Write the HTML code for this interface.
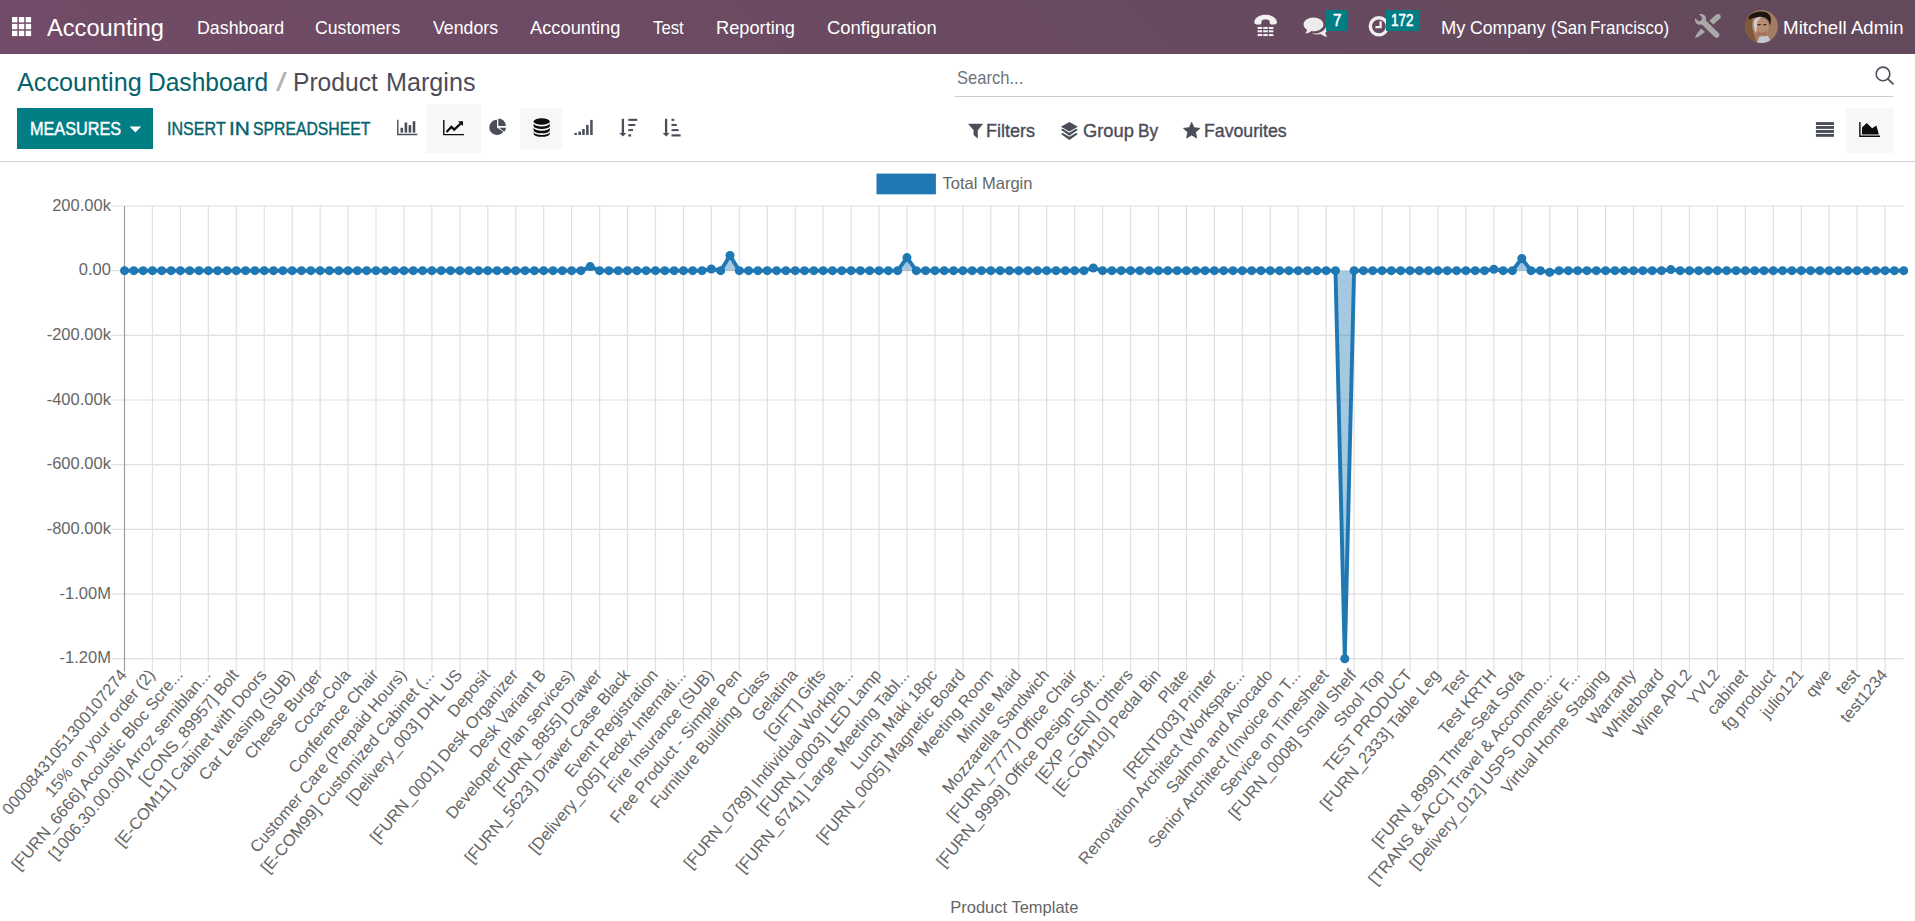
<!DOCTYPE html>
<html lang="en"><head><meta charset="utf-8"><title>Odoo - Product Margins</title>
<style>
html,body{margin:0;padding:0;background:#fff;}
body{width:1915px;height:921px;position:relative;overflow:hidden;font-family:"Liberation Sans", Arial, Helvetica, sans-serif;}
.t{position:absolute;white-space:pre;line-height:1;display:block;transform-origin:0 50%;}
.w{position:absolute;top:0;white-space:pre;transform-origin:0 50%;}
.abs{position:absolute;}
#navbar{position:absolute;left:0;top:0;width:1915px;height:54px;background:linear-gradient(45deg,#714B67,#62495B);}
#cp-border{position:absolute;left:0;top:161px;width:1915px;height:1.3px;background:#cfd2d6;}
#search-line{position:absolute;left:955px;top:96px;width:938px;height:1.2px;background:#c9ccd0;}
#btn-measures{position:absolute;left:17px;top:108px;width:136px;height:40.8px;background:#017e84;}
.actbg{position:absolute;background:#f7f7f7;}
.badge{position:absolute;background:#017e84;}
</style></head>
<body>
<header id="navbar"></header>
<section id="control-panel">
<div id="btn-measures"></div>
<div class="actbg" style="left:426px;top:103.7px;width:55.2px;height:49.5px"></div>
<div class="actbg" style="left:520px;top:108px;width:42px;height:41px"></div>
<div class="actbg" style="left:1846.1px;top:108.1px;width:46.9px;height:44.8px"></div>
<div id="search-line"></div>
<div id="cp-border"></div>
</section>
<svg id="icons" width="1915" height="162" viewBox="0 0 1915 162" style="position:absolute;left:0;top:0">
<g fill="#fff"><rect x="12.00" y="17.00" width="5.4" height="5.4"/><rect x="18.85" y="17.00" width="5.4" height="5.4"/><rect x="25.70" y="17.00" width="5.4" height="5.4"/><rect x="12.00" y="23.85" width="5.4" height="5.4"/><rect x="18.85" y="23.85" width="5.4" height="5.4"/><rect x="25.70" y="23.85" width="5.4" height="5.4"/><rect x="12.00" y="30.70" width="5.4" height="5.4"/><rect x="18.85" y="30.70" width="5.4" height="5.4"/><rect x="25.70" y="30.70" width="5.4" height="5.4"/></g>
<g fill="#f0f0f0"><path d="M1254.3 22.6 C1254.0 17.5 1260 14.8 1265.5 14.8 C1271 14.8 1277.2 17.5 1276.9 22.6 C1276.8 23.6 1276 24.3 1275 24.4 L1271.6 24.6 C1270.6 24.6 1269.9 24 1269.8 23 L1269.6 20.9 C1269.5 20 1267.5 19.4 1265.5 19.4 C1263.5 19.4 1261.7 20 1261.6 20.9 L1261.4 23 C1261.3 24 1260.6 24.6 1259.6 24.6 L1256.2 24.4 C1255.2 24.3 1254.4 23.6 1254.3 22.6 Z"/><rect x="1257.6" y="26.9" width="4.6" height="2.1"/><rect x="1263.2" y="26.9" width="4.6" height="2.1"/><rect x="1268.8" y="26.9" width="4.6" height="2.1"/><rect x="1257.6" y="30.2" width="4.6" height="2.1"/><rect x="1263.2" y="30.2" width="4.6" height="2.1"/><rect x="1268.8" y="30.2" width="4.6" height="2.1"/><rect x="1257.6" y="34.0" width="4.6" height="2.1"/><rect x="1263.2" y="34.0" width="4.6" height="2.1"/><rect x="1268.8" y="34.0" width="4.6" height="2.1"/></g>
<g fill="#ececec"><path d="M1311.5 33.6 C1313.2 34.2 1315 34.5 1317 34.5 C1318.3 34.5 1319.5 34.4 1320.7 34.1 C1322.4 35.6 1324.6 36.6 1327.3 36.9 C1326.2 35.6 1325.5 34.2 1325.3 32.6 C1327.2 31.2 1328.3 29.3 1328.3 27.2 C1328.3 25.4 1327.4 23.8 1326 22.5 C1326.2 23.2 1326.3 24 1326.3 24.7 C1326.3 29.6 1321 33.3 1314.5 33.6 Z"/><path d="M1313.5 17.5 C1308 17.5 1303.6 20.6 1303.6 24.4 C1303.6 26.5 1305 28.4 1307.1 29.7 C1306.9 31.1 1306.2 32.4 1305.2 33.6 C1307.8 33.3 1309.9 32.4 1311.4 31.1 C1312.1 31.2 1312.8 31.3 1313.5 31.3 C1319 31.3 1323.4 28.2 1323.4 24.4 C1323.4 20.6 1319 17.5 1313.5 17.5 Z"/></g>
<circle cx="1378.9" cy="26.3" r="8.6" fill="none" stroke="#f0f0f0" stroke-width="3.4"/>
<path d="M1380.6 21.2V27.2H1375.4" fill="none" stroke="#f0f0f0" stroke-width="2.3"/>
<g fill="#a9a9a9"><path d="M1699.3 14.2 C1697.4 14.6 1696 15.6 1695.2 17.2 L1698.6 20.6 L1701.6 19.8 L1702.4 16.8 L1699.3 14.2 Z" fill="none"/><path d="M1695.0 18.2 C1694.6 20.6 1695.4 22.8 1697.2 24.0 C1698.6 24.9 1700.3 25.1 1701.9 24.6 L1714.6 37.1 C1715.7 38.2 1717.5 38.2 1718.6 37.1 C1719.7 36.0 1719.7 34.2 1718.6 33.1 L1705.9 20.6 C1706.4 18.6 1705.9 16.5 1704.4 15.2 C1702.8 13.9 1700.8 13.6 1699.0 14.3 L1702.2 17.5 L1701.4 20.4 L1698.5 21.2 Z"/><path d="M1716.2 14.6 C1717.3 13.6 1719.0 13.7 1720.0 14.7 C1721.0 15.8 1721.0 17.4 1720.0 18.5 L1713.3 24.6 L1709.4 20.7 Z"/><path d="M1701.2 28.4 L1705.0 32.1 L1699.2 36.3 L1694.9 38.3 L1696.6 34.0 Z"/></g>
<g><clipPath id="avc"><circle cx="1761.4" cy="26.4" r="16.5"/></clipPath><circle cx="1761.4" cy="26.4" r="16.5" fill="#a37c65"/><g clip-path="url(#avc)"><path d="M1744 14 L1753 14 L1752 28 L1757 44 L1744 44 Z" fill="#80593a"/><path d="M1748.5 19.5 L1749 16.5 C1752 12.5 1757 11.2 1762 11.4 C1767 11.6 1770.5 14 1771 19 L1770.3 25.5 L1768.6 21 C1766.5 17 1761 16.2 1757.5 17.2 C1754 18 1751 18.6 1748.5 19.5 Z" fill="#1e1511"/><ellipse cx="1762" cy="27.2" rx="6.6" ry="8.6" fill="#b98d73"/><path d="M1753.6 21.5 C1754.5 17.8 1758 16.6 1761.5 17 L1757.3 21.5 L1756.2 33.5 C1754 30 1753 25.5 1753.6 21.5 Z" fill="#d3cac4"/><path d="M1757.6 24.6h3M1763.4 24.6h3" stroke="#3a2419" stroke-width="1.2"/><path d="M1757.5 30.5 C1759 33.5 1764.5 33.8 1766.5 30 L1766 35 L1758 35 Z" fill="#a8584e" fill-opacity="0.7"/><path d="M1756 45 L1759.5 36.5 L1768 36 L1773 45 Z" fill="#c4c8ce"/></g></g>
<path d="M129.6 126.4H141.2L135.4 132.6Z" fill="#fff"/>
<g fill="#4a4e59"><path d="M397.1 119.7h1.4v14.1h18.8v1.4H397.1z"/><rect x="400.50" y="127.8" width="2.6" height="4.80"/><rect x="404.60" y="122.5" width="2.6" height="10.10"/><rect x="408.60" y="125.1" width="2.6" height="7.50"/><rect x="412.70" y="121.2" width="2.6" height="11.40"/></g>
<g fill="#0d0d0d"><path d="M443.1 119.9h1.4v14.0h19.5v1.4H443.1z"/><path d="M458.0 121.2H463.0V126.1L461.3 124.4L454.2 131.3L451.4 128.5L447.3 132.8L445.7 131.2L451.4 125.3L454.2 128.1L459.7 122.9Z"/></g>
<g fill="#4a4e59"><path d="M497.0 127.4V119.7A7.7 7.7 0 1 0 503.31 131.82Z"/><path d="M498.3 126.10000000000001V118.4A7.7 7.7 0 0 1 506.0 126.10000000000001Z"/><path d="M499.2 127.7H506.0A7.7 7.7 0 0 1 504.31 131.82Z"/></g>
<g fill="#0d0d0d"><ellipse cx="541.7" cy="121.5" rx="8.099999999999966" ry="3.2"/><path d="M533.6 123.3A8.099999999999966 3.1 0 0 0 549.8 123.3V125.89999999999999A8.099999999999966 3.1 0 0 1 533.6 125.89999999999999Z"/><path d="M533.6 127.6A8.099999999999966 3.1 0 0 0 549.8 127.6V130.2A8.099999999999966 3.1 0 0 1 533.6 130.2Z"/><path d="M533.6 131.9A8.099999999999966 3.1 0 0 0 549.8 131.9V133.70000000000002A8.099999999999966 3.1 0 0 1 533.6 133.70000000000002Z"/></g>
<g fill="#4a4e59"><rect x="574.4" y="132.9" width="2.5" height="2.10"/><rect x="578.4" y="131.5" width="2.5" height="3.50"/><rect x="582.2" y="128.9" width="2.5" height="6.10"/><rect x="586.1" y="124.9" width="2.5" height="10.10"/><rect x="590.2" y="119.9" width="2.5" height="15.10"/></g>
<g fill="#4a4e59"><rect x="621.75" y="118.8" width="2.3" height="14.6"/><path d="M619.40 132.9H626.40L622.90 136.6Z"/><rect x="628.3" y="118.8" width="8.9" height="2.1"/><rect x="628.3" y="124.0" width="7.0" height="2.0"/><rect x="628.3" y="129.1" width="4.7" height="2.0"/><rect x="628.3" y="134.3" width="2.8" height="2.2"/></g>
<g fill="#4a4e59"><rect x="664.95" y="118.8" width="2.3" height="14.6"/><path d="M662.60 132.9H669.60L666.10 136.6Z"/><rect x="671.5" y="118.8" width="2.8" height="2.1"/><rect x="671.5" y="124.0" width="5.3" height="2.0"/><rect x="671.5" y="129.1" width="7.2" height="2.0"/><rect x="671.5" y="134.3" width="9.1" height="2.2"/></g>
<path d="M968.6 124.1H982.5L977.5 130.3V138.0L973.9 135.0V130.3Z" fill="#4a4e59" stroke="#4a4e59" stroke-width="0.6" stroke-linejoin="round"/>
<g fill="#4a4e59"><path d="M1069.4 121.9L1077.9 126.7L1069.4 131.6L1060.9 126.7Z"/><path d="M1060.9 129.8L1062.7 128.8L1069.4 132.7L1076.1 128.8L1077.9 129.8L1069.4 135.8Z"/><path d="M1060.9 133.9L1062.7 132.9L1069.4 136.8L1076.1 132.9L1077.9 133.9L1069.4 139.9Z"/></g>
<path d="M1191.65 122.40L1194.00 127.76L1199.83 128.34L1195.45 132.24L1196.70 137.96L1191.65 135.00L1186.60 137.96L1187.85 132.24L1183.47 128.34L1189.30 127.76Z" fill="#4a4e59" stroke="#4a4e59" stroke-width="0.9" stroke-linejoin="round"/>
<circle cx="1883" cy="73.9" r="6.8" fill="none" stroke="#4a5160" stroke-width="1.6"/>
<path d="M1887.9 78.8L1892.9 83.8" stroke="#4a5160" stroke-width="1.8" stroke-linecap="round"/>
<g fill="#4a4e59"><rect x="1815.9" y="122.1" width="18.1" height="2.9"/><rect x="1815.9" y="126.0" width="18.1" height="2.9"/><rect x="1815.9" y="130.0" width="18.1" height="2.9"/><rect x="1815.9" y="133.9" width="18.1" height="2.9"/></g>
<g fill="#0d0d0d"><path d="M1859.2 122.1h1.4v13.4h19.4v1.4H1859.2z"/><path d="M1862.0 134.4V127.4L1866.7 122.9L1872.1 128.3L1876.4 125.4L1878.9 134.4Z"/></g>
</svg>
<div class="badge" style="left:1325.6px;top:10px;width:22.3px;height:20.9px"></div>
<div class="badge" style="left:1385.8px;top:10px;width:34.5px;height:20.9px"></div>
<nav id="main-menu">
<span class="t" id="brand" style="left:47.60px;top:17.00px;font-size:23.1px;color:#fff;font-weight:400;"><span class="w" id="brand.0" style="left:-0.22px;transform:scaleX(1.0242)">Accounting</span></span>
<span class="t" id="m1" style="left:197.80px;top:17.92px;font-size:19.0px;color:#fff;font-weight:400;"><span class="w" id="m1.0" style="left:-1.29px;transform:scaleX(0.9379)">Dashboard</span></span>
<span class="t" id="m2" style="left:315.90px;top:17.92px;font-size:19.0px;color:#fff;font-weight:400;"><span class="w" id="m2.0" style="left:-1.40px;transform:scaleX(0.9288)">Customers</span></span>
<span class="t" id="m3" style="left:433.20px;top:17.92px;font-size:19.0px;color:#fff;font-weight:400;"><span class="w" id="m3.0" style="left:-0.36px;transform:scaleX(0.9331)">Vendors</span></span>
<span class="t" id="m4" style="left:530.20px;top:17.92px;font-size:19.0px;color:#fff;font-weight:400;"><span class="w" id="m4.0" style="left:-0.20px;transform:scaleX(0.9622)">Accounting</span></span>
<span class="t" id="m5" style="left:653.30px;top:17.92px;font-size:19.0px;color:#fff;font-weight:400;"><span class="w" id="m5.0" style="left:-0.38px;transform:scaleX(0.8822)">Test</span></span>
<span class="t" id="m6" style="left:717.40px;top:17.92px;font-size:19.0px;color:#fff;font-weight:400;"><span class="w" id="m6.0" style="left:-1.76px;transform:scaleX(0.9590)">Reporting</span></span>
<span class="t" id="m7" style="left:827.70px;top:17.92px;font-size:19.0px;color:#fff;font-weight:400;"><span class="w" id="m7.0" style="left:-1.20px;transform:scaleX(0.9702)">Configuration</span></span>
<span class="t" id="company" style="left:1442.70px;top:17.92px;font-size:19.0px;color:#fff;font-weight:400;"><span class="w" id="company.0" style="left:-1.34px;transform:scaleX(0.9681)">My</span> <span class="w" id="company.1" style="left:27.80px;transform:scaleX(0.9285)">Company</span> <span class="w" id="company.2" style="left:108.20px;transform:scaleX(0.8879)">(San</span> <span class="w" id="company.3" style="left:147.32px;transform:scaleX(0.8920)">Francisco)</span></span>
<span class="t" id="user" style="left:1783.60px;top:17.92px;font-size:19.0px;color:#fff;font-weight:400;"><span class="w" id="user.0" style="left:-1.08px;transform:scaleX(0.9874)">Mitchell</span> <span class="w" id="user.1" style="left:67.11px;transform:scaleX(0.9759)">Admin</span></span>
<span class="t" id="b7" style="left:1333.00px;top:11.99px;font-size:16.2px;color:#fff;font-weight:400;-webkit-text-stroke:0.55px #fff;"><span class="w" id="b7.0" style="left:-0.46px;transform:scaleX(0.9467)">7</span></span>
<span class="t" id="b172" style="left:1392.30px;top:11.99px;font-size:16.2px;color:#fff;font-weight:400;-webkit-text-stroke:0.55px #fff;"><span class="w" id="b172.0" style="left:-1.51px;transform:scaleX(0.8306)">172</span></span>
</nav>
<section id="control-panel-text">
<span class="t" id="bc1" style="left:17.30px;top:70.02px;font-size:24.9px;color:#04626b;font-weight:400;"><span class="w" id="bc1.0" style="left:-0.48px;transform:scaleX(1.0125)">Accounting</span> <span class="w" id="bc1.1" style="left:131.14px;transform:scaleX(0.9858)">Dashboard</span></span>
<span class="t" id="bc2" style="left:275.70px;top:70.02px;font-size:24.9px;color:#b3b3b3;font-weight:400;"><span class="w" id="bc2.0" style="left:0.25px;transform:scaleX(1.5660)">/</span></span>
<span class="t" id="bc3" style="left:295.30px;top:70.02px;font-size:24.9px;color:#4c4c59;font-weight:400;"><span class="w" id="bc3.0" style="left:-2.11px;transform:scaleX(0.9888)">Product</span> <span class="w" id="bc3.1" style="left:90.26px;transform:scaleX(1.0107)">Margins</span></span>
<span class="t" id="search" style="left:958.10px;top:67.92px;font-size:19.0px;color:#70757d;font-weight:400;"><span class="w" id="search.0" style="left:-0.88px;transform:scaleX(0.8720)">Search...</span></span>
<span class="t" id="measures" style="left:31.20px;top:119.96px;font-size:18.6px;color:#fff;font-weight:400;-webkit-text-stroke:0.45px #fff;"><span class="w" id="measures.0" style="left:-0.91px;transform:scaleX(0.8736)">MEASURES</span></span>
<span class="t" id="insert" style="left:167.10px;top:119.96px;font-size:18.6px;color:#04626b;font-weight:400;-webkit-text-stroke:0.4px #04626b;"><span class="w" id="insert.0" style="left:-0.29px;transform:scaleX(0.8660)">INSERT</span> <span class="w" id="insert.1" style="left:62.08px;transform:scaleX(1.1208)">IN</span> <span class="w" id="insert.2" style="left:86.22px;transform:scaleX(0.8471)">SPREADSHEET</span></span>
<span class="t" id="filters" style="left:987.60px;top:121.96px;font-size:18.6px;color:#4c4c59;font-weight:400;-webkit-text-stroke:0.4px #4c4c59;"><span class="w" id="filters.0" style="left:-1.35px;transform:scaleX(0.9698)">Filters</span></span>
<span class="t" id="groupby" style="left:1083.00px;top:121.96px;font-size:18.6px;color:#4c4c59;font-weight:400;-webkit-text-stroke:0.4px #4c4c59;"><span class="w" id="groupby.0" style="left:-0.51px;transform:scaleX(0.9838)">Group</span> <span class="w" id="groupby.1" style="left:54.86px;transform:scaleX(0.9276)">By</span></span>
<span class="t" id="fav" style="left:1205.20px;top:121.96px;font-size:18.6px;color:#4c4c59;font-weight:400;-webkit-text-stroke:0.4px #4c4c59;"><span class="w" id="fav.0" style="left:-1.35px;transform:scaleX(0.9517)">Favourites</span></span>
</section>
<main id="graph-view">
<svg id="chart" width="1915" height="759" viewBox="0 162 1915 759" style="position:absolute;left:0;top:162px" font-family='"Liberation Sans", Arial, Helvetica, sans-serif' font-size="16.5" fill="#666">
<rect x="876.5" y="173.6" width="59.4" height="20.7" fill="#1f77b4"/>
<text x="942.6" y="188.6">Total Margin</text>
<path d="M152.45 206.00V671.70M180.39 206.00V671.70M208.34 206.00V671.70M236.28 206.00V671.70M264.23 206.00V671.70M292.17 206.00V671.70M320.12 206.00V671.70M348.06 206.00V671.70M376.01 206.00V671.70M403.96 206.00V671.70M431.90 206.00V671.70M459.85 206.00V671.70M487.79 206.00V671.70M515.74 206.00V671.70M543.68 206.00V671.70M571.63 206.00V671.70M599.57 206.00V671.70M627.52 206.00V671.70M655.47 206.00V671.70M683.41 206.00V671.70M711.36 206.00V671.70M739.30 206.00V671.70M767.25 206.00V671.70M795.19 206.00V671.70M823.14 206.00V671.70M851.08 206.00V671.70M879.03 206.00V671.70M906.98 206.00V671.70M934.92 206.00V671.70M962.87 206.00V671.70M990.81 206.00V671.70M1018.76 206.00V671.70M1046.70 206.00V671.70M1074.65 206.00V671.70M1102.59 206.00V671.70M1130.54 206.00V671.70M1158.49 206.00V671.70M1186.43 206.00V671.70M1214.38 206.00V671.70M1242.32 206.00V671.70M1270.27 206.00V671.70M1298.21 206.00V671.70M1326.16 206.00V671.70M1354.10 206.00V671.70M1382.05 206.00V671.70M1410.00 206.00V671.70M1437.94 206.00V671.70M1465.89 206.00V671.70M1493.83 206.00V671.70M1521.78 206.00V671.70M1549.72 206.00V671.70M1577.67 206.00V671.70M1605.61 206.00V671.70M1633.56 206.00V671.70M1661.51 206.00V671.70M1689.45 206.00V671.70M1717.40 206.00V671.70M1745.34 206.00V671.70M1773.29 206.00V671.70M1801.23 206.00V671.70M1829.18 206.00V671.70M1857.12 206.00V671.70M1885.07 206.00V671.70M111.20 206.00H1903.70M111.20 270.67H1903.70M111.20 335.34H1903.70M111.20 400.01H1903.70M111.20 464.69H1903.70M111.20 529.36H1903.70M111.20 594.03H1903.70M111.20 658.70H1903.70" stroke="#e0e0e0" stroke-width="1.2" fill="none"/>
<path d="M124.50 206.00V671.70" stroke="#9e9e9e" stroke-width="1.2" fill="none"/>
<text x="110.9" y="210.70" text-anchor="end">200.00k</text>
<text x="110.9" y="275.37" text-anchor="end">0.00</text>
<text x="110.9" y="340.04" text-anchor="end">-200.00k</text>
<text x="110.9" y="404.71" text-anchor="end">-400.00k</text>
<text x="110.9" y="469.39" text-anchor="end">-600.00k</text>
<text x="110.9" y="534.06" text-anchor="end">-800.00k</text>
<text x="110.9" y="598.73" text-anchor="end">-1.00M</text>
<text x="110.9" y="663.40" text-anchor="end">-1.20M</text>
<text transform="translate(124.50 672.6) rotate(-50)" text-anchor="end" y="4.2">00008431051300107274</text>
<text transform="translate(152.45 672.6) rotate(-50)" text-anchor="end" y="4.2">15% on your order (2)</text>
<text transform="translate(180.39 672.6) rotate(-50)" text-anchor="end" y="4.2">[FURN_6666] Acoustic Bloc Scre...</text>
<text transform="translate(208.34 672.6) rotate(-50)" text-anchor="end" y="4.2">[1006.30.00.00] Arroz semiblan...</text>
<text transform="translate(236.28 672.6) rotate(-50)" text-anchor="end" y="4.2">[CONS_89957] Bolt</text>
<text transform="translate(264.23 672.6) rotate(-50)" text-anchor="end" y="4.2">[E-COM11] Cabinet with Doors</text>
<text transform="translate(292.17 672.6) rotate(-50)" text-anchor="end" y="4.2">Car Leasing (SUB)</text>
<text transform="translate(320.12 672.6) rotate(-50)" text-anchor="end" y="4.2">Cheese Burger</text>
<text transform="translate(348.06 672.6) rotate(-50)" text-anchor="end" y="4.2">Coca-Cola</text>
<text transform="translate(376.01 672.6) rotate(-50)" text-anchor="end" y="4.2">Conference Chair</text>
<text transform="translate(403.96 672.6) rotate(-50)" text-anchor="end" y="4.2">Customer Care (Prepaid Hours)</text>
<text transform="translate(431.90 672.6) rotate(-50)" text-anchor="end" y="4.2">[E-COM99] Customized Cabinet (...</text>
<text transform="translate(459.85 672.6) rotate(-50)" text-anchor="end" y="4.2">[Delivery_003] DHL US</text>
<text transform="translate(487.79 672.6) rotate(-50)" text-anchor="end" y="4.2">Deposit</text>
<text transform="translate(515.74 672.6) rotate(-50)" text-anchor="end" y="4.2">[FURN_0001] Desk Organizer</text>
<text transform="translate(543.68 672.6) rotate(-50)" text-anchor="end" y="4.2">Desk Variant B</text>
<text transform="translate(571.63 672.6) rotate(-50)" text-anchor="end" y="4.2">Developer (Plan services)</text>
<text transform="translate(599.57 672.6) rotate(-50)" text-anchor="end" y="4.2">[FURN_8855] Drawer</text>
<text transform="translate(627.52 672.6) rotate(-50)" text-anchor="end" y="4.2">[FURN_5623] Drawer Case Black</text>
<text transform="translate(655.47 672.6) rotate(-50)" text-anchor="end" y="4.2">Event Registration</text>
<text transform="translate(683.41 672.6) rotate(-50)" text-anchor="end" y="4.2">[Delivery_005] Fedex Internati...</text>
<text transform="translate(711.36 672.6) rotate(-50)" text-anchor="end" y="4.2">Fire Insurance (SUB)</text>
<text transform="translate(739.30 672.6) rotate(-50)" text-anchor="end" y="4.2">Free Product - Simple Pen</text>
<text transform="translate(767.25 672.6) rotate(-50)" text-anchor="end" y="4.2">Furniture Building Class</text>
<text transform="translate(795.19 672.6) rotate(-50)" text-anchor="end" y="4.2">Gelatina</text>
<text transform="translate(823.14 672.6) rotate(-50)" text-anchor="end" y="4.2">[GIFT] Gifts</text>
<text transform="translate(851.08 672.6) rotate(-50)" text-anchor="end" y="4.2">[FURN_0789] Individual Workpla...</text>
<text transform="translate(879.03 672.6) rotate(-50)" text-anchor="end" y="4.2">[FURN_0003] LED Lamp</text>
<text transform="translate(906.98 672.6) rotate(-50)" text-anchor="end" y="4.2">[FURN_6741] Large Meeting Tabl...</text>
<text transform="translate(934.92 672.6) rotate(-50)" text-anchor="end" y="4.2">Lunch Maki 18pc</text>
<text transform="translate(962.87 672.6) rotate(-50)" text-anchor="end" y="4.2">[FURN_0005] Magnetic Board</text>
<text transform="translate(990.81 672.6) rotate(-50)" text-anchor="end" y="4.2">Meeting Room</text>
<text transform="translate(1018.76 672.6) rotate(-50)" text-anchor="end" y="4.2">Minute Maid</text>
<text transform="translate(1046.70 672.6) rotate(-50)" text-anchor="end" y="4.2">Mozzarella Sandwich</text>
<text transform="translate(1074.65 672.6) rotate(-50)" text-anchor="end" y="4.2">[FURN_7777] Office Chair</text>
<text transform="translate(1102.59 672.6) rotate(-50)" text-anchor="end" y="4.2">[FURN_9999] Office Design Soft...</text>
<text transform="translate(1130.54 672.6) rotate(-50)" text-anchor="end" y="4.2">[EXP_GEN] Others</text>
<text transform="translate(1158.49 672.6) rotate(-50)" text-anchor="end" y="4.2">[E-COM10] Pedal Bin</text>
<text transform="translate(1186.43 672.6) rotate(-50)" text-anchor="end" y="4.2">Plate</text>
<text transform="translate(1214.38 672.6) rotate(-50)" text-anchor="end" y="4.2">[RENT003] Printer</text>
<text transform="translate(1242.32 672.6) rotate(-50)" text-anchor="end" y="4.2">Renovation Architect (Workspac...</text>
<text transform="translate(1270.27 672.6) rotate(-50)" text-anchor="end" y="4.2">Salmon and Avocado</text>
<text transform="translate(1298.21 672.6) rotate(-50)" text-anchor="end" y="4.2">Senior Architect (Invoice on T...</text>
<text transform="translate(1326.16 672.6) rotate(-50)" text-anchor="end" y="4.2">Service on Timesheet</text>
<text transform="translate(1354.10 672.6) rotate(-50)" text-anchor="end" y="4.2">[FURN_0008] Small Shelf</text>
<text transform="translate(1382.05 672.6) rotate(-50)" text-anchor="end" y="4.2">Stool Top</text>
<text transform="translate(1410.00 672.6) rotate(-50)" text-anchor="end" y="4.2">TEST PRODUCT</text>
<text transform="translate(1437.94 672.6) rotate(-50)" text-anchor="end" y="4.2">[FURN_2333] Table Leg</text>
<text transform="translate(1465.89 672.6) rotate(-50)" text-anchor="end" y="4.2">Test</text>
<text transform="translate(1493.83 672.6) rotate(-50)" text-anchor="end" y="4.2">Test KRTH</text>
<text transform="translate(1521.78 672.6) rotate(-50)" text-anchor="end" y="4.2">[FURN_8999] Three-Seat Sofa</text>
<text transform="translate(1549.72 672.6) rotate(-50)" text-anchor="end" y="4.2">[TRANS &amp; ACC] Travel &amp; Accommo...</text>
<text transform="translate(1577.67 672.6) rotate(-50)" text-anchor="end" y="4.2">[Delivery_012] USPS Domestic F...</text>
<text transform="translate(1605.61 672.6) rotate(-50)" text-anchor="end" y="4.2">Virtual Home Staging</text>
<text transform="translate(1633.56 672.6) rotate(-50)" text-anchor="end" y="4.2">Warranty</text>
<text transform="translate(1661.51 672.6) rotate(-50)" text-anchor="end" y="4.2">Whiteboard</text>
<text transform="translate(1689.45 672.6) rotate(-50)" text-anchor="end" y="4.2">Wine APL2</text>
<text transform="translate(1717.40 672.6) rotate(-50)" text-anchor="end" y="4.2">YVL2</text>
<text transform="translate(1745.34 672.6) rotate(-50)" text-anchor="end" y="4.2">cabinet</text>
<text transform="translate(1773.29 672.6) rotate(-50)" text-anchor="end" y="4.2">fg product</text>
<text transform="translate(1801.23 672.6) rotate(-50)" text-anchor="end" y="4.2">julio121</text>
<text transform="translate(1829.18 672.6) rotate(-50)" text-anchor="end" y="4.2">qwe</text>
<text transform="translate(1857.12 672.6) rotate(-50)" text-anchor="end" y="4.2">test</text>
<text transform="translate(1885.07 672.6) rotate(-50)" text-anchor="end" y="4.2">test1234</text>
<text x="1014.3" y="912.6" text-anchor="middle">Product Template</text>
<path d="M124.50 270.67L133.82 270.67L143.13 270.67L152.45 270.67L161.76 270.67L171.08 270.67L180.39 270.67L189.71 270.67L199.02 270.67L208.34 270.67L217.65 270.67L226.97 270.67L236.28 270.67L245.60 270.67L254.91 270.67L264.23 270.67L273.54 270.67L282.86 270.67L292.17 270.67L301.49 270.67L310.80 270.67L320.12 270.67L329.43 270.67L338.75 270.67L348.06 270.67L357.38 270.67L366.69 270.67L376.01 270.67L385.33 270.67L394.64 270.67L403.96 270.67L413.27 270.67L422.59 270.67L431.90 270.67L441.22 270.67L450.53 270.67L459.85 270.67L469.16 270.67L478.48 270.67L487.79 270.67L497.11 270.67L506.42 270.67L515.74 270.67L525.05 270.67L534.37 270.67L543.68 270.67L553.00 270.67L562.31 270.67L571.63 270.67L580.94 270.67L590.26 266.60L599.57 270.67L608.89 270.67L618.20 270.67L627.52 270.67L636.84 270.67L646.15 270.67L655.47 270.67L664.78 270.67L674.10 270.67L683.41 270.67L692.73 270.67L702.04 270.67L711.36 269.00L720.67 270.67L729.99 255.50L739.30 270.67L748.62 270.67L757.93 270.67L767.25 270.67L776.56 270.67L785.88 270.67L795.19 270.67L804.51 270.67L813.82 270.67L823.14 270.67L832.45 270.67L841.77 270.67L851.08 270.67L860.40 270.67L869.71 270.67L879.03 270.67L888.35 270.67L897.66 270.67L906.98 257.60L916.29 270.67L925.61 270.67L934.92 270.67L944.24 270.67L953.55 270.67L962.87 270.67L972.18 270.67L981.50 270.67L990.81 270.67L1000.13 270.67L1009.44 270.67L1018.76 270.67L1028.07 270.67L1037.39 270.67L1046.70 270.67L1056.02 270.67L1065.33 270.67L1074.65 270.67L1083.96 270.67L1093.28 268.00L1102.59 270.67L1111.91 270.67L1121.22 270.67L1130.54 270.67L1139.85 270.67L1149.17 270.67L1158.49 270.67L1167.80 270.67L1177.12 270.67L1186.43 270.67L1195.75 270.67L1205.06 270.67L1214.38 270.67L1223.69 270.67L1233.01 270.67L1242.32 270.67L1251.64 270.67L1260.95 270.67L1270.27 270.67L1279.58 270.67L1288.90 270.67L1298.21 270.67L1307.53 270.67L1316.84 270.67L1326.16 270.67L1335.47 270.67L1344.79 658.70L1354.10 270.67L1363.42 270.67L1372.73 270.67L1382.05 270.67L1391.36 270.67L1400.68 270.67L1410.00 270.67L1419.31 270.67L1428.63 270.67L1437.94 270.67L1447.26 270.67L1456.57 270.67L1465.89 270.67L1475.20 270.67L1484.52 270.67L1493.83 269.20L1503.15 270.67L1512.46 270.67L1521.78 258.50L1531.09 270.67L1540.41 270.67L1549.72 272.30L1559.04 270.67L1568.35 270.67L1577.67 270.67L1586.98 270.67L1596.30 270.67L1605.61 270.67L1614.93 270.67L1624.24 270.67L1633.56 270.67L1642.87 270.67L1652.19 270.67L1661.51 270.67L1670.82 269.60L1680.14 270.67L1689.45 270.67L1698.77 270.67L1708.08 270.67L1717.40 270.67L1726.71 270.67L1736.03 270.67L1745.34 270.67L1754.66 270.67L1763.97 270.67L1773.29 270.67L1782.60 270.67L1791.92 270.67L1801.23 270.67L1810.55 270.67L1819.86 270.67L1829.18 270.67L1838.49 270.67L1847.81 270.67L1857.12 270.67L1866.44 270.67L1875.75 270.67L1885.07 270.67L1894.38 270.67L1903.70 270.67L1903.70 270.67L124.50 270.67Z" fill="#1f77b4" fill-opacity="0.4" stroke="none"/>
<path d="M124.50 270.67L133.82 270.67L143.13 270.67L152.45 270.67L161.76 270.67L171.08 270.67L180.39 270.67L189.71 270.67L199.02 270.67L208.34 270.67L217.65 270.67L226.97 270.67L236.28 270.67L245.60 270.67L254.91 270.67L264.23 270.67L273.54 270.67L282.86 270.67L292.17 270.67L301.49 270.67L310.80 270.67L320.12 270.67L329.43 270.67L338.75 270.67L348.06 270.67L357.38 270.67L366.69 270.67L376.01 270.67L385.33 270.67L394.64 270.67L403.96 270.67L413.27 270.67L422.59 270.67L431.90 270.67L441.22 270.67L450.53 270.67L459.85 270.67L469.16 270.67L478.48 270.67L487.79 270.67L497.11 270.67L506.42 270.67L515.74 270.67L525.05 270.67L534.37 270.67L543.68 270.67L553.00 270.67L562.31 270.67L571.63 270.67L580.94 270.67L590.26 266.60L599.57 270.67L608.89 270.67L618.20 270.67L627.52 270.67L636.84 270.67L646.15 270.67L655.47 270.67L664.78 270.67L674.10 270.67L683.41 270.67L692.73 270.67L702.04 270.67L711.36 269.00L720.67 270.67L729.99 255.50L739.30 270.67L748.62 270.67L757.93 270.67L767.25 270.67L776.56 270.67L785.88 270.67L795.19 270.67L804.51 270.67L813.82 270.67L823.14 270.67L832.45 270.67L841.77 270.67L851.08 270.67L860.40 270.67L869.71 270.67L879.03 270.67L888.35 270.67L897.66 270.67L906.98 257.60L916.29 270.67L925.61 270.67L934.92 270.67L944.24 270.67L953.55 270.67L962.87 270.67L972.18 270.67L981.50 270.67L990.81 270.67L1000.13 270.67L1009.44 270.67L1018.76 270.67L1028.07 270.67L1037.39 270.67L1046.70 270.67L1056.02 270.67L1065.33 270.67L1074.65 270.67L1083.96 270.67L1093.28 268.00L1102.59 270.67L1111.91 270.67L1121.22 270.67L1130.54 270.67L1139.85 270.67L1149.17 270.67L1158.49 270.67L1167.80 270.67L1177.12 270.67L1186.43 270.67L1195.75 270.67L1205.06 270.67L1214.38 270.67L1223.69 270.67L1233.01 270.67L1242.32 270.67L1251.64 270.67L1260.95 270.67L1270.27 270.67L1279.58 270.67L1288.90 270.67L1298.21 270.67L1307.53 270.67L1316.84 270.67L1326.16 270.67L1335.47 270.67L1344.79 658.70L1354.10 270.67L1363.42 270.67L1372.73 270.67L1382.05 270.67L1391.36 270.67L1400.68 270.67L1410.00 270.67L1419.31 270.67L1428.63 270.67L1437.94 270.67L1447.26 270.67L1456.57 270.67L1465.89 270.67L1475.20 270.67L1484.52 270.67L1493.83 269.20L1503.15 270.67L1512.46 270.67L1521.78 258.50L1531.09 270.67L1540.41 270.67L1549.72 272.30L1559.04 270.67L1568.35 270.67L1577.67 270.67L1586.98 270.67L1596.30 270.67L1605.61 270.67L1614.93 270.67L1624.24 270.67L1633.56 270.67L1642.87 270.67L1652.19 270.67L1661.51 270.67L1670.82 269.60L1680.14 270.67L1689.45 270.67L1698.77 270.67L1708.08 270.67L1717.40 270.67L1726.71 270.67L1736.03 270.67L1745.34 270.67L1754.66 270.67L1763.97 270.67L1773.29 270.67L1782.60 270.67L1791.92 270.67L1801.23 270.67L1810.55 270.67L1819.86 270.67L1829.18 270.67L1838.49 270.67L1847.81 270.67L1857.12 270.67L1866.44 270.67L1875.75 270.67L1885.07 270.67L1894.38 270.67L1903.70 270.67" fill="none" stroke="#1f77b4" stroke-width="3.9" stroke-linejoin="round" stroke-linecap="butt"/>
<g fill="#1f77b4"><circle cx="124.50" cy="270.67" r="4.5"/><circle cx="133.82" cy="270.67" r="4.5"/><circle cx="143.13" cy="270.67" r="4.5"/><circle cx="152.45" cy="270.67" r="4.5"/><circle cx="161.76" cy="270.67" r="4.5"/><circle cx="171.08" cy="270.67" r="4.5"/><circle cx="180.39" cy="270.67" r="4.5"/><circle cx="189.71" cy="270.67" r="4.5"/><circle cx="199.02" cy="270.67" r="4.5"/><circle cx="208.34" cy="270.67" r="4.5"/><circle cx="217.65" cy="270.67" r="4.5"/><circle cx="226.97" cy="270.67" r="4.5"/><circle cx="236.28" cy="270.67" r="4.5"/><circle cx="245.60" cy="270.67" r="4.5"/><circle cx="254.91" cy="270.67" r="4.5"/><circle cx="264.23" cy="270.67" r="4.5"/><circle cx="273.54" cy="270.67" r="4.5"/><circle cx="282.86" cy="270.67" r="4.5"/><circle cx="292.17" cy="270.67" r="4.5"/><circle cx="301.49" cy="270.67" r="4.5"/><circle cx="310.80" cy="270.67" r="4.5"/><circle cx="320.12" cy="270.67" r="4.5"/><circle cx="329.43" cy="270.67" r="4.5"/><circle cx="338.75" cy="270.67" r="4.5"/><circle cx="348.06" cy="270.67" r="4.5"/><circle cx="357.38" cy="270.67" r="4.5"/><circle cx="366.69" cy="270.67" r="4.5"/><circle cx="376.01" cy="270.67" r="4.5"/><circle cx="385.33" cy="270.67" r="4.5"/><circle cx="394.64" cy="270.67" r="4.5"/><circle cx="403.96" cy="270.67" r="4.5"/><circle cx="413.27" cy="270.67" r="4.5"/><circle cx="422.59" cy="270.67" r="4.5"/><circle cx="431.90" cy="270.67" r="4.5"/><circle cx="441.22" cy="270.67" r="4.5"/><circle cx="450.53" cy="270.67" r="4.5"/><circle cx="459.85" cy="270.67" r="4.5"/><circle cx="469.16" cy="270.67" r="4.5"/><circle cx="478.48" cy="270.67" r="4.5"/><circle cx="487.79" cy="270.67" r="4.5"/><circle cx="497.11" cy="270.67" r="4.5"/><circle cx="506.42" cy="270.67" r="4.5"/><circle cx="515.74" cy="270.67" r="4.5"/><circle cx="525.05" cy="270.67" r="4.5"/><circle cx="534.37" cy="270.67" r="4.5"/><circle cx="543.68" cy="270.67" r="4.5"/><circle cx="553.00" cy="270.67" r="4.5"/><circle cx="562.31" cy="270.67" r="4.5"/><circle cx="571.63" cy="270.67" r="4.5"/><circle cx="580.94" cy="270.67" r="4.5"/><circle cx="590.26" cy="266.60" r="4.5"/><circle cx="599.57" cy="270.67" r="4.5"/><circle cx="608.89" cy="270.67" r="4.5"/><circle cx="618.20" cy="270.67" r="4.5"/><circle cx="627.52" cy="270.67" r="4.5"/><circle cx="636.84" cy="270.67" r="4.5"/><circle cx="646.15" cy="270.67" r="4.5"/><circle cx="655.47" cy="270.67" r="4.5"/><circle cx="664.78" cy="270.67" r="4.5"/><circle cx="674.10" cy="270.67" r="4.5"/><circle cx="683.41" cy="270.67" r="4.5"/><circle cx="692.73" cy="270.67" r="4.5"/><circle cx="702.04" cy="270.67" r="4.5"/><circle cx="711.36" cy="269.00" r="4.5"/><circle cx="720.67" cy="270.67" r="4.5"/><circle cx="729.99" cy="255.50" r="4.5"/><circle cx="739.30" cy="270.67" r="4.5"/><circle cx="748.62" cy="270.67" r="4.5"/><circle cx="757.93" cy="270.67" r="4.5"/><circle cx="767.25" cy="270.67" r="4.5"/><circle cx="776.56" cy="270.67" r="4.5"/><circle cx="785.88" cy="270.67" r="4.5"/><circle cx="795.19" cy="270.67" r="4.5"/><circle cx="804.51" cy="270.67" r="4.5"/><circle cx="813.82" cy="270.67" r="4.5"/><circle cx="823.14" cy="270.67" r="4.5"/><circle cx="832.45" cy="270.67" r="4.5"/><circle cx="841.77" cy="270.67" r="4.5"/><circle cx="851.08" cy="270.67" r="4.5"/><circle cx="860.40" cy="270.67" r="4.5"/><circle cx="869.71" cy="270.67" r="4.5"/><circle cx="879.03" cy="270.67" r="4.5"/><circle cx="888.35" cy="270.67" r="4.5"/><circle cx="897.66" cy="270.67" r="4.5"/><circle cx="906.98" cy="257.60" r="4.5"/><circle cx="916.29" cy="270.67" r="4.5"/><circle cx="925.61" cy="270.67" r="4.5"/><circle cx="934.92" cy="270.67" r="4.5"/><circle cx="944.24" cy="270.67" r="4.5"/><circle cx="953.55" cy="270.67" r="4.5"/><circle cx="962.87" cy="270.67" r="4.5"/><circle cx="972.18" cy="270.67" r="4.5"/><circle cx="981.50" cy="270.67" r="4.5"/><circle cx="990.81" cy="270.67" r="4.5"/><circle cx="1000.13" cy="270.67" r="4.5"/><circle cx="1009.44" cy="270.67" r="4.5"/><circle cx="1018.76" cy="270.67" r="4.5"/><circle cx="1028.07" cy="270.67" r="4.5"/><circle cx="1037.39" cy="270.67" r="4.5"/><circle cx="1046.70" cy="270.67" r="4.5"/><circle cx="1056.02" cy="270.67" r="4.5"/><circle cx="1065.33" cy="270.67" r="4.5"/><circle cx="1074.65" cy="270.67" r="4.5"/><circle cx="1083.96" cy="270.67" r="4.5"/><circle cx="1093.28" cy="268.00" r="4.5"/><circle cx="1102.59" cy="270.67" r="4.5"/><circle cx="1111.91" cy="270.67" r="4.5"/><circle cx="1121.22" cy="270.67" r="4.5"/><circle cx="1130.54" cy="270.67" r="4.5"/><circle cx="1139.85" cy="270.67" r="4.5"/><circle cx="1149.17" cy="270.67" r="4.5"/><circle cx="1158.49" cy="270.67" r="4.5"/><circle cx="1167.80" cy="270.67" r="4.5"/><circle cx="1177.12" cy="270.67" r="4.5"/><circle cx="1186.43" cy="270.67" r="4.5"/><circle cx="1195.75" cy="270.67" r="4.5"/><circle cx="1205.06" cy="270.67" r="4.5"/><circle cx="1214.38" cy="270.67" r="4.5"/><circle cx="1223.69" cy="270.67" r="4.5"/><circle cx="1233.01" cy="270.67" r="4.5"/><circle cx="1242.32" cy="270.67" r="4.5"/><circle cx="1251.64" cy="270.67" r="4.5"/><circle cx="1260.95" cy="270.67" r="4.5"/><circle cx="1270.27" cy="270.67" r="4.5"/><circle cx="1279.58" cy="270.67" r="4.5"/><circle cx="1288.90" cy="270.67" r="4.5"/><circle cx="1298.21" cy="270.67" r="4.5"/><circle cx="1307.53" cy="270.67" r="4.5"/><circle cx="1316.84" cy="270.67" r="4.5"/><circle cx="1326.16" cy="270.67" r="4.5"/><circle cx="1335.47" cy="270.67" r="4.5"/><circle cx="1344.79" cy="658.70" r="4.5"/><circle cx="1354.10" cy="270.67" r="4.5"/><circle cx="1363.42" cy="270.67" r="4.5"/><circle cx="1372.73" cy="270.67" r="4.5"/><circle cx="1382.05" cy="270.67" r="4.5"/><circle cx="1391.36" cy="270.67" r="4.5"/><circle cx="1400.68" cy="270.67" r="4.5"/><circle cx="1410.00" cy="270.67" r="4.5"/><circle cx="1419.31" cy="270.67" r="4.5"/><circle cx="1428.63" cy="270.67" r="4.5"/><circle cx="1437.94" cy="270.67" r="4.5"/><circle cx="1447.26" cy="270.67" r="4.5"/><circle cx="1456.57" cy="270.67" r="4.5"/><circle cx="1465.89" cy="270.67" r="4.5"/><circle cx="1475.20" cy="270.67" r="4.5"/><circle cx="1484.52" cy="270.67" r="4.5"/><circle cx="1493.83" cy="269.20" r="4.5"/><circle cx="1503.15" cy="270.67" r="4.5"/><circle cx="1512.46" cy="270.67" r="4.5"/><circle cx="1521.78" cy="258.50" r="4.5"/><circle cx="1531.09" cy="270.67" r="4.5"/><circle cx="1540.41" cy="270.67" r="4.5"/><circle cx="1549.72" cy="272.30" r="4.5"/><circle cx="1559.04" cy="270.67" r="4.5"/><circle cx="1568.35" cy="270.67" r="4.5"/><circle cx="1577.67" cy="270.67" r="4.5"/><circle cx="1586.98" cy="270.67" r="4.5"/><circle cx="1596.30" cy="270.67" r="4.5"/><circle cx="1605.61" cy="270.67" r="4.5"/><circle cx="1614.93" cy="270.67" r="4.5"/><circle cx="1624.24" cy="270.67" r="4.5"/><circle cx="1633.56" cy="270.67" r="4.5"/><circle cx="1642.87" cy="270.67" r="4.5"/><circle cx="1652.19" cy="270.67" r="4.5"/><circle cx="1661.51" cy="270.67" r="4.5"/><circle cx="1670.82" cy="269.60" r="4.5"/><circle cx="1680.14" cy="270.67" r="4.5"/><circle cx="1689.45" cy="270.67" r="4.5"/><circle cx="1698.77" cy="270.67" r="4.5"/><circle cx="1708.08" cy="270.67" r="4.5"/><circle cx="1717.40" cy="270.67" r="4.5"/><circle cx="1726.71" cy="270.67" r="4.5"/><circle cx="1736.03" cy="270.67" r="4.5"/><circle cx="1745.34" cy="270.67" r="4.5"/><circle cx="1754.66" cy="270.67" r="4.5"/><circle cx="1763.97" cy="270.67" r="4.5"/><circle cx="1773.29" cy="270.67" r="4.5"/><circle cx="1782.60" cy="270.67" r="4.5"/><circle cx="1791.92" cy="270.67" r="4.5"/><circle cx="1801.23" cy="270.67" r="4.5"/><circle cx="1810.55" cy="270.67" r="4.5"/><circle cx="1819.86" cy="270.67" r="4.5"/><circle cx="1829.18" cy="270.67" r="4.5"/><circle cx="1838.49" cy="270.67" r="4.5"/><circle cx="1847.81" cy="270.67" r="4.5"/><circle cx="1857.12" cy="270.67" r="4.5"/><circle cx="1866.44" cy="270.67" r="4.5"/><circle cx="1875.75" cy="270.67" r="4.5"/><circle cx="1885.07" cy="270.67" r="4.5"/><circle cx="1894.38" cy="270.67" r="4.5"/><circle cx="1903.70" cy="270.67" r="4.5"/></g>
</svg>
</main>
</body></html>
